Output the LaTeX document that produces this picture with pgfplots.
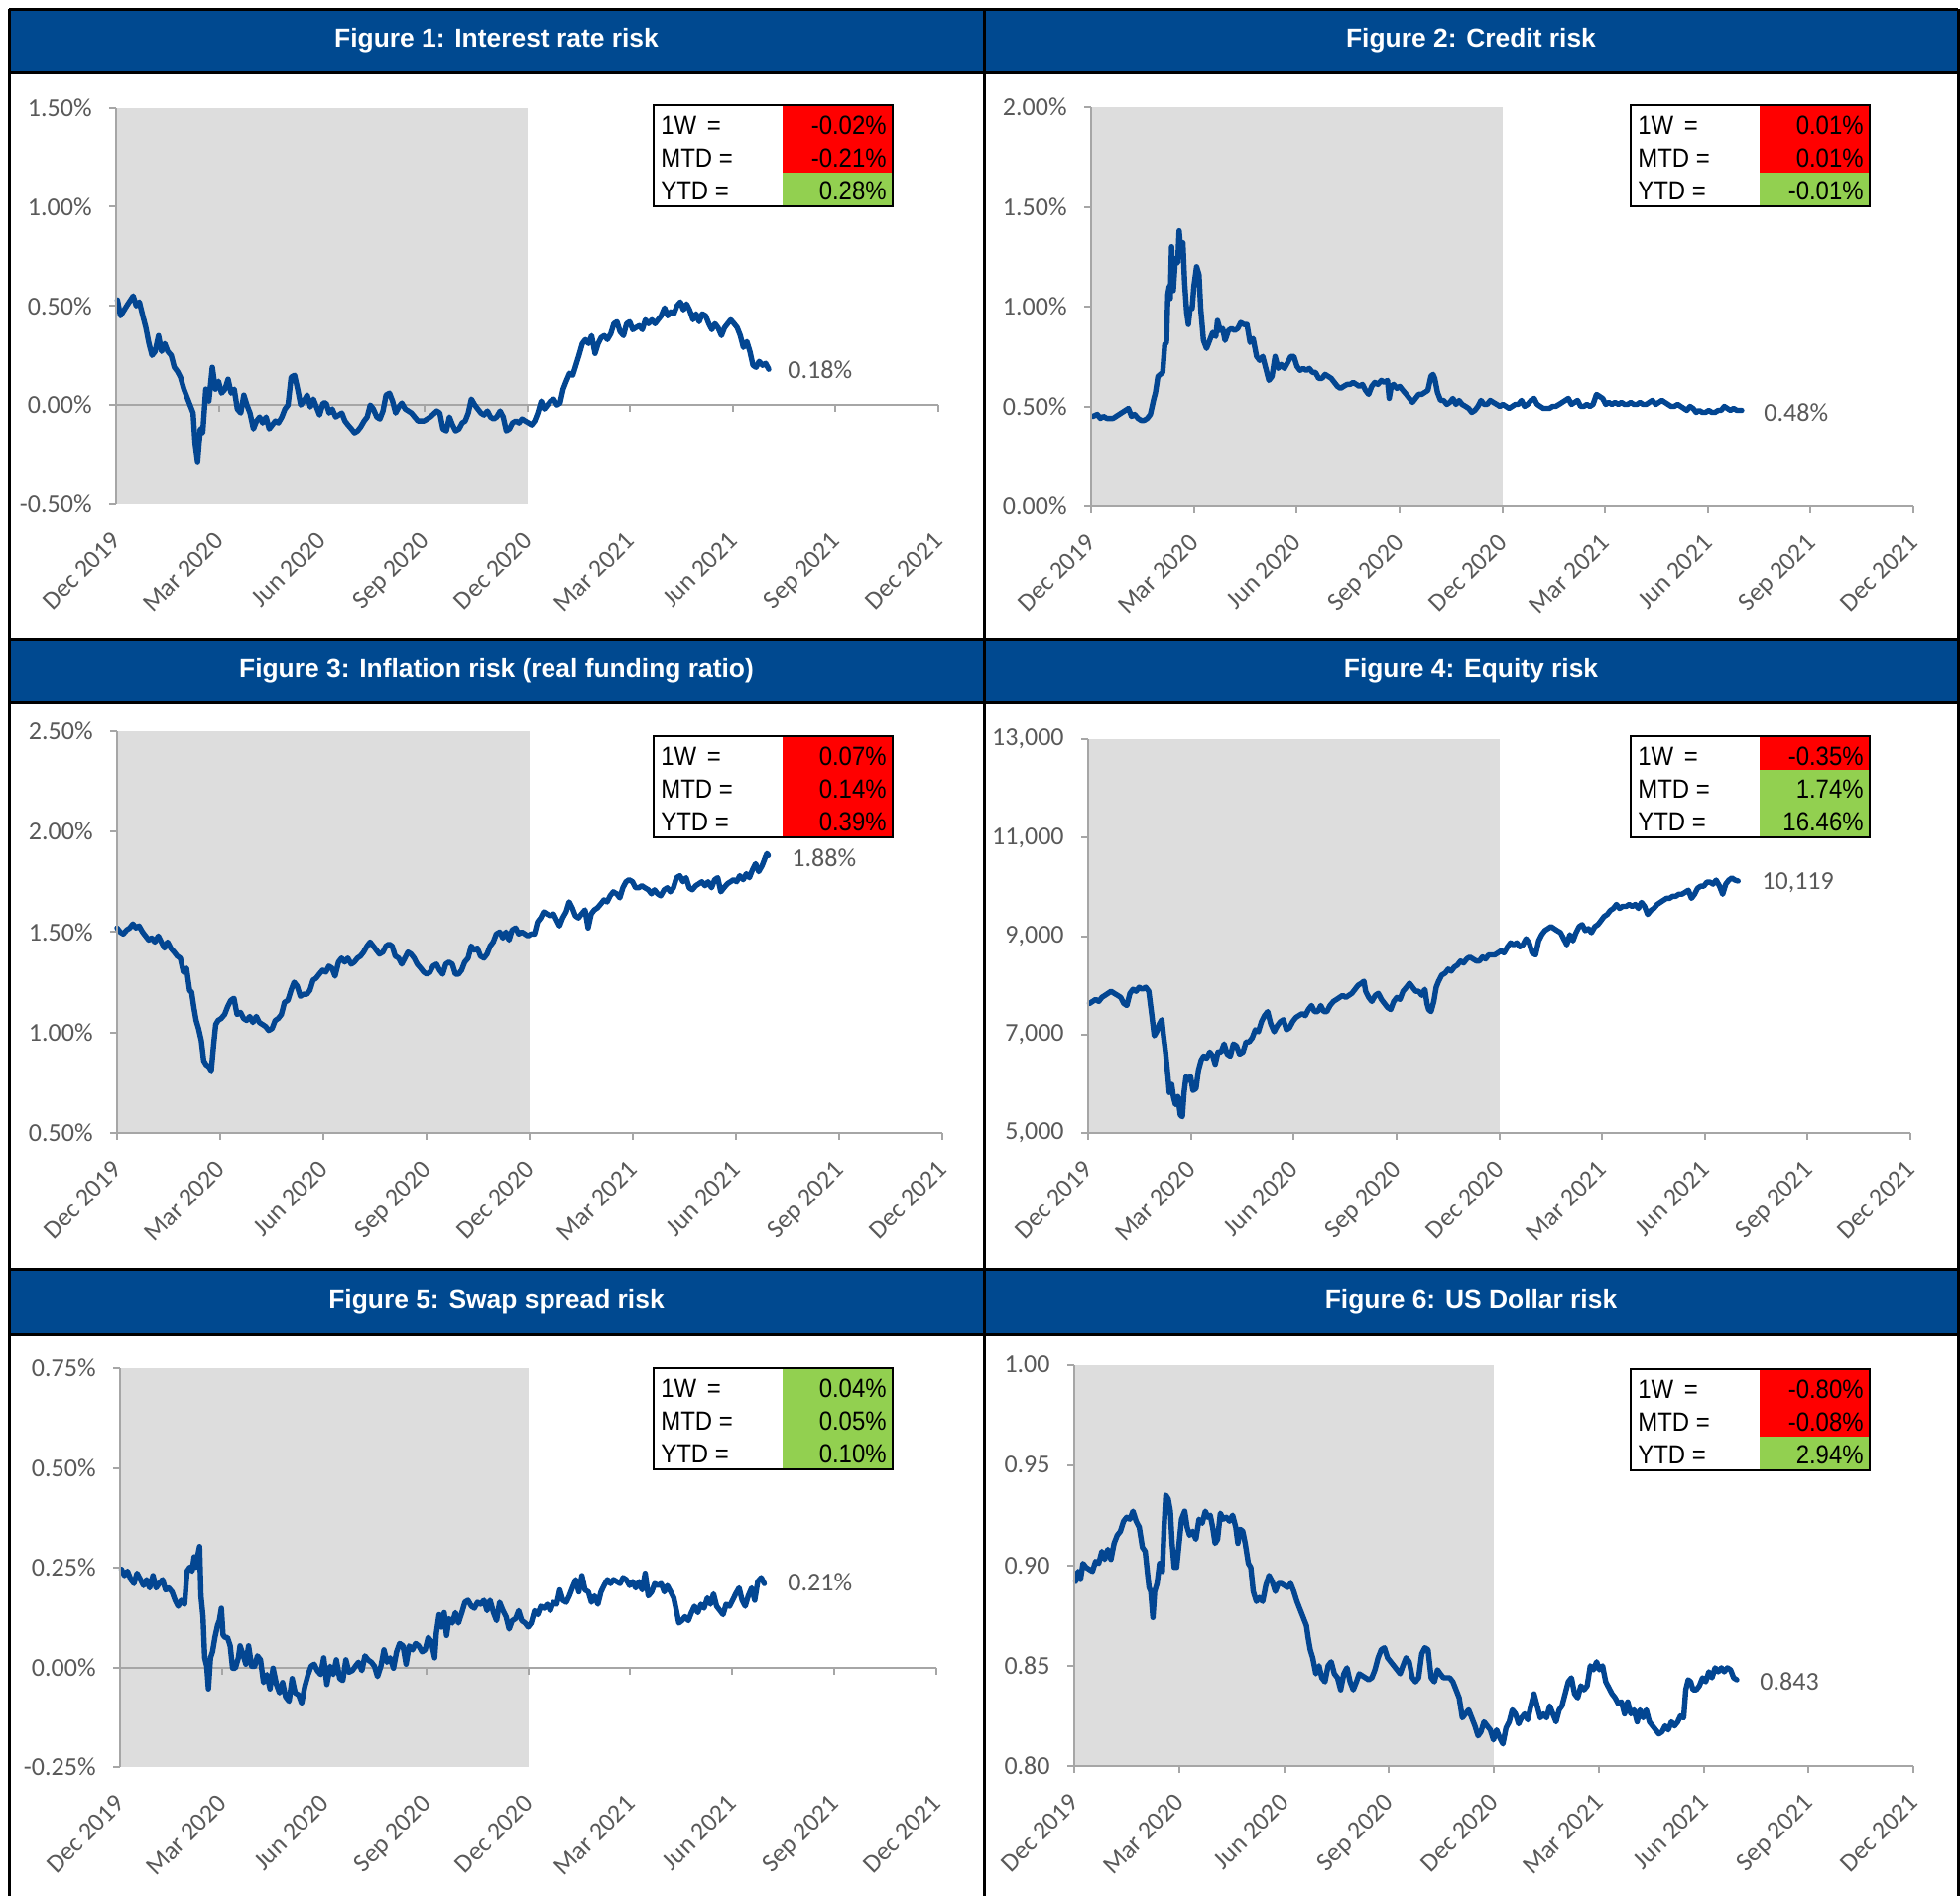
\documentclass[border=0pt]{standalone}
\usepackage{fontspec}
\setmainfont{Liberation Sans}
\newfontfamily\carlito{Carlito}
\usepackage{pgfplots}
\usepackage{pgfplotstable}
\pgfplotsset{compat=1.18}

\definecolor{hdrblue}{RGB}{0,73,144}
\definecolor{lineblue}{RGB}{3,70,146}
\definecolor{shadegray}{RGB}{221,221,221}
\definecolor{tickgray}{RGB}{89,89,89}
\definecolor{axgray}{RGB}{166,166,166}
\definecolor{cellred}{RGB}{255,0,0}
\definecolor{cellgreen}{RGB}{146,208,80}

\newcommand{\tickfont}{\carlito\fontsize{13}{15}\selectfont}
\newcommand{\tabfont}{\fontsize{13.3}{15}\selectfont}
\newcommand{\hdrfont}{\fontsize{13.2}{16}\selectfont\bfseries}

\pgfplotsset{
  panel/.style={
    scale only axis,
    xmin=0, xmax=24,
    axis on top,
    axis x line*=bottom,
    axis y line*=left,
    x axis line style={draw=none},
    y axis line style={axgray, line width=1pt, -},
    xtick={0,3,...,24},
    xticklabels={Dec 2019,Mar 2020,Jun 2020,Sep 2020,Dec 2020,Mar 2021,Jun 2021,Sep 2021,Dec 2021},
    xtick style={draw=none},
    ytick style={axgray, line width=1pt},
    tick align=outside,
    major tick length=3.5pt,
    scaled y ticks=false,
    xticklabel style={font=\tickfont, text=tickgray, inner sep=0pt, xshift=-3pt, yshift=-9.5pt, rotate=45, anchor=north east},
    yticklabel style={font=\tickfont, text=tickgray, inner sep=0pt, xshift=-8.5pt, anchor=east},
    /pgf/number format/assume math mode=true,
    clip=false,
  },
  serie/.style={lineblue, line width=2.7pt, line join=round, line cap=round, mark=none},
}

\newcommand{\xaxisat}[1]{%
  \draw[axgray, line width=1pt] (axis cs:0,#1) -- (axis cs:24,#1);
  \pgfplotsinvokeforeach{0,3,...,24}{\draw[axgray, line width=1pt] (axis cs:##1,#1) -- ++(0pt,-3.5pt);}
}

\newcommand{\stattable}[8]{%
 \begin{scope}[shift={(#1,#2)}]
  \fill[white] (0pt,0pt) rectangle (120.5pt,-51pt);
  \fill[#3] (65pt,0pt) rectangle (120.5pt,-17pt);
  \fill[#4] (65pt,-17pt) rectangle (120.5pt,-34pt);
  \fill[#5] (65pt,-34pt) rectangle (120.5pt,-51pt);
  \draw[line width=1.4pt] (0pt,0pt) rectangle (120.5pt,-51pt);
  \node[anchor=west,inner sep=0pt,font=\tabfont,xscale=0.9] at (3.5pt,-10.3pt) {1W\ \,=};
  \node[anchor=west,inner sep=0pt,font=\tabfont,xscale=0.9] at (3.5pt,-26.8pt) {MTD =};
  \node[anchor=west,inner sep=0pt,font=\tabfont,xscale=0.9] at (3.5pt,-43.2pt) {YTD =};
  \node[anchor=east,inner sep=0pt,font=\tabfont,xscale=0.9] at (117.5pt,-10.3pt) {#6};
  \node[anchor=east,inner sep=0pt,font=\tabfont,xscale=0.9] at (117.5pt,-26.8pt) {#7};
  \node[anchor=east,inner sep=0pt,font=\tabfont,xscale=0.9] at (117.5pt,-43.2pt) {#8};
 \end{scope}}

\begin{document}

\pgfplotstableread{
x y
0.04 0.53
0.13 0.45
0.31 0.50
0.50 0.55
0.59 0.50
0.68 0.52
0.78 0.45
0.87 0.39
0.96 0.31
1.05 0.25
1.14 0.27
1.24 0.35
1.33 0.27
1.42 0.31
1.51 0.27
1.61 0.25
1.70 0.19
1.79 0.17
1.88 0.14
1.98 0.08
2.07 0.04
2.16 0.00
2.25 -0.04
2.31 -0.20
2.38 -0.29
2.46 -0.12
2.53 -0.14
2.62 0.08
2.71 0.02
2.81 0.19
2.90 0.08
2.99 0.12
3.08 0.06
3.18 0.08
3.27 0.13
3.36 0.06
3.45 0.08
3.54 -0.02
3.64 -0.04
3.73 0.05
3.82 0.00
3.91 -0.04
4.01 -0.12
4.10 -0.08
4.19 -0.06
4.28 -0.09
4.38 -0.06
4.47 -0.12
4.56 -0.10
4.65 -0.08
4.74 -0.09
4.84 -0.06
4.93 -0.02
5.02 0.00
5.11 0.14
5.21 0.15
5.30 0.08
5.39 0.00
5.48 0.02
5.58 0.05
5.67 -0.01
5.76 0.03
5.85 -0.01
5.94 -0.05
6.04 0.01
6.13 0.01
6.22 -0.04
6.31 -0.02
6.41 -0.06
6.59 -0.04
6.68 -0.08
6.77 -0.10
6.87 -0.12
6.96 -0.14
7.05 -0.13
7.14 -0.11
7.24 -0.08
7.33 -0.06
7.42 0.00
7.51 -0.02
7.61 -0.06
7.70 -0.07
7.79 -0.03
7.88 0.05
7.98 0.06
8.07 0.02
8.16 -0.04
8.25 -0.01
8.34 0.01
8.44 -0.02
8.62 -0.04
8.81 -0.08
8.99 -0.08
9.17 -0.06
9.36 -0.03
9.45 -0.04
9.54 -0.12
9.64 -0.13
9.73 -0.06
9.82 -0.10
9.91 -0.13
10.01 -0.12
10.10 -0.09
10.19 -0.08
10.28 -0.04
10.37 0.03
10.47 0.00
10.56 -0.02
10.65 -0.04
10.74 -0.05
10.84 -0.03
10.93 -0.06
11.02 -0.07
11.11 -0.06
11.21 -0.03
11.30 -0.06
11.39 -0.13
11.48 -0.12
11.57 -0.09
11.67 -0.08
11.76 -0.09
11.85 -0.07
11.94 -0.08
12.04 -0.09
12.13 -0.10
12.22 -0.08
12.31 -0.04
12.41 0.02
12.50 -0.02
12.59 0.00
12.68 0.02
12.77 0.03
12.87 0.00
12.96 0.01
13.05 0.08
13.14 0.12
13.24 0.16
13.33 0.15
13.42 0.20
13.51 0.25
13.61 0.31
13.70 0.33
13.79 0.31
13.88 0.35
13.98 0.26
14.07 0.31
14.16 0.34
14.25 0.35
14.34 0.33
14.44 0.36
14.53 0.41
14.62 0.42
14.71 0.37
14.81 0.35
14.90 0.41
14.99 0.42
15.08 0.38
15.17 0.39
15.27 0.40
15.36 0.38
15.45 0.43
15.54 0.41
15.64 0.43
15.73 0.41
15.82 0.43
15.91 0.45
16.01 0.49
16.10 0.45
16.19 0.47
16.28 0.46
16.37 0.50
16.47 0.52
16.56 0.48
16.65 0.51
16.74 0.48
16.84 0.43
16.93 0.46
17.02 0.42
17.11 0.46
17.21 0.45
17.30 0.41
17.39 0.38
17.48 0.41
17.57 0.39
17.67 0.35
17.76 0.39
17.85 0.41
17.94 0.43
18.04 0.41
18.13 0.39
18.22 0.35
18.31 0.29
18.41 0.32
18.50 0.27
18.59 0.20
18.68 0.19
18.77 0.22
18.87 0.20
18.96 0.21
19.05 0.18
}\dataA

\pgfplotstableread{
x y
0.05 0.45
0.18 0.46
0.27 0.44
0.36 0.45
0.46 0.44
0.64 0.44
0.82 0.46
0.91 0.47
1.00 0.48
1.09 0.49
1.18 0.45
1.27 0.46
1.37 0.44
1.46 0.43
1.55 0.43
1.64 0.44
1.73 0.46
1.82 0.53
1.88 0.57
1.95 0.65
2.02 0.66
2.09 0.67
2.15 0.81
2.20 0.82
2.24 1.06
2.28 1.10
2.31 1.04
2.35 1.30
2.40 1.08
2.46 1.24
2.53 1.22
2.57 1.38
2.62 1.28
2.68 1.32
2.73 1.12
2.79 0.97
2.84 0.91
2.89 0.99
2.95 0.99
3.00 1.10
3.08 1.20
3.15 1.16
3.20 0.99
3.28 0.83
3.37 0.79
3.46 0.83
3.55 0.87
3.64 0.85
3.69 0.93
3.77 0.88
3.84 0.89
3.91 0.83
4.01 0.88
4.10 0.89
4.19 0.88
4.28 0.89
4.37 0.92
4.46 0.91
4.55 0.91
4.64 0.82
4.73 0.84
4.83 0.75
4.92 0.73
5.01 0.75
5.10 0.69
5.19 0.63
5.28 0.65
5.37 0.75
5.46 0.69
5.55 0.71
5.64 0.69
5.74 0.72
5.83 0.75
5.92 0.75
6.01 0.70
6.10 0.68
6.19 0.69
6.28 0.68
6.37 0.69
6.46 0.67
6.55 0.67
6.64 0.64
6.74 0.64
6.83 0.66
6.92 0.65
7.01 0.64
7.10 0.62
7.19 0.60
7.28 0.59
7.37 0.60
7.47 0.61
7.56 0.61
7.65 0.62
7.74 0.61
7.83 0.60
7.92 0.61
8.01 0.58
8.10 0.56
8.19 0.60
8.28 0.62
8.37 0.61
8.47 0.63
8.56 0.62
8.65 0.63
8.70 0.54
8.76 0.60
8.83 0.61
8.92 0.59
9.01 0.60
9.10 0.58
9.20 0.56
9.29 0.54
9.38 0.52
9.47 0.54
9.56 0.56
9.65 0.56
9.74 0.57
9.83 0.58
9.92 0.65
9.98 0.66
10.03 0.64
10.11 0.57
10.20 0.53
10.29 0.53
10.38 0.51
10.47 0.52
10.56 0.54
10.65 0.51
10.74 0.53
10.83 0.51
10.93 0.50
11.02 0.49
11.11 0.47
11.20 0.48
11.29 0.50
11.38 0.53
11.47 0.51
11.56 0.51
11.65 0.53
11.74 0.52
11.84 0.51
11.93 0.50
12.02 0.51
12.11 0.50
12.20 0.49
12.29 0.50
12.38 0.51
12.47 0.51
12.56 0.53
12.65 0.50
12.74 0.51
12.84 0.53
12.93 0.54
13.02 0.51
13.11 0.50
13.20 0.49
13.29 0.49
13.38 0.49
13.47 0.50
13.56 0.50
13.66 0.51
13.75 0.52
13.84 0.53
13.93 0.54
14.02 0.51
14.11 0.52
14.20 0.53
14.29 0.50
14.38 0.50
14.47 0.51
14.56 0.50
14.65 0.51
14.75 0.56
14.84 0.55
14.93 0.54
15.02 0.51
15.11 0.52
15.20 0.51
15.29 0.52
15.39 0.51
15.48 0.52
15.57 0.51
15.66 0.51
15.75 0.52
15.84 0.51
15.93 0.51
16.02 0.52
16.11 0.51
16.20 0.51
16.29 0.52
16.38 0.53
16.48 0.51
16.57 0.52
16.66 0.53
16.75 0.52
16.84 0.51
16.93 0.50
17.02 0.50
17.12 0.51
17.21 0.50
17.30 0.49
17.39 0.48
17.48 0.50
17.57 0.49
17.66 0.47
17.75 0.48
17.84 0.47
17.93 0.47
18.03 0.48
18.12 0.47
18.21 0.47
18.30 0.48
18.39 0.48
18.48 0.50
18.57 0.49
18.66 0.48
18.75 0.49
18.85 0.48
18.94 0.48
18.99 0.48
}\dataB

\pgfplotstableread{
x y
0.00 1.52
0.09 1.50
0.18 1.49
0.28 1.51
0.37 1.52
0.46 1.54
0.55 1.52
0.64 1.53
0.74 1.50
0.83 1.48
0.92 1.46
1.01 1.47
1.10 1.45
1.20 1.48
1.29 1.45
1.38 1.42
1.47 1.45
1.56 1.42
1.66 1.40
1.75 1.38
1.84 1.37
1.93 1.30
2.02 1.32
2.11 1.21
2.17 1.20
2.23 1.13
2.30 1.06
2.37 1.02
2.45 0.96
2.52 0.86
2.59 0.84
2.67 0.83
2.74 0.81
2.81 0.94
2.87 1.04
2.94 1.06
3.03 1.07
3.13 1.09
3.22 1.13
3.31 1.16
3.40 1.17
3.49 1.09
3.59 1.10
3.68 1.07
3.77 1.06
3.86 1.08
3.95 1.05
4.05 1.08
4.14 1.05
4.23 1.04
4.32 1.03
4.41 1.01
4.51 1.02
4.60 1.06
4.69 1.07
4.78 1.09
4.87 1.15
4.97 1.16
5.06 1.21
5.15 1.25
5.24 1.23
5.33 1.18
5.42 1.19
5.52 1.19
5.61 1.21
5.70 1.26
5.79 1.27
5.88 1.29
5.98 1.31
6.07 1.30
6.16 1.33
6.25 1.32
6.34 1.28
6.44 1.35
6.53 1.37
6.62 1.35
6.71 1.37
6.81 1.34
6.90 1.35
6.99 1.37
7.08 1.38
7.17 1.40
7.27 1.43
7.36 1.45
7.45 1.43
7.54 1.41
7.63 1.39
7.73 1.40
7.82 1.43
7.91 1.44
8.00 1.43
8.09 1.38
8.19 1.37
8.28 1.34
8.37 1.37
8.46 1.40
8.55 1.39
8.64 1.37
8.73 1.34
8.83 1.32
8.92 1.30
9.01 1.29
9.10 1.30
9.19 1.33
9.29 1.34
9.38 1.31
9.47 1.29
9.56 1.34
9.65 1.35
9.75 1.34
9.84 1.29
9.93 1.29
10.02 1.31
10.11 1.35
10.21 1.37
10.30 1.43
10.39 1.41
10.48 1.42
10.57 1.38
10.67 1.37
10.76 1.39
10.85 1.43
10.94 1.45
11.03 1.49
11.13 1.50
11.22 1.47
11.31 1.50
11.40 1.46
11.49 1.51
11.59 1.52
11.68 1.49
11.77 1.50
11.86 1.49
11.95 1.48
12.04 1.49
12.14 1.49
12.23 1.55
12.32 1.57
12.41 1.60
12.50 1.59
12.60 1.58
12.69 1.59
12.78 1.56
12.87 1.53
12.96 1.57
13.06 1.60
13.15 1.65
13.24 1.62
13.33 1.58
13.42 1.57
13.51 1.59
13.61 1.61
13.70 1.52
13.79 1.59
13.88 1.61
13.97 1.62
14.07 1.64
14.16 1.66
14.25 1.65
14.34 1.68
14.43 1.70
14.53 1.69
14.62 1.67
14.71 1.72
14.80 1.75
14.89 1.76
14.99 1.75
15.08 1.72
15.17 1.72
15.26 1.73
15.35 1.72
15.45 1.71
15.54 1.69
15.63 1.71
15.72 1.69
15.81 1.68
15.91 1.71
16.00 1.72
16.09 1.70
16.18 1.72
16.27 1.77
16.37 1.78
16.46 1.75
16.55 1.77
16.64 1.72
16.73 1.71
16.83 1.73
16.92 1.74
17.01 1.75
17.10 1.73
17.19 1.75
17.29 1.72
17.38 1.76
17.47 1.77
17.56 1.70
17.65 1.72
17.75 1.74
17.84 1.75
17.93 1.76
18.02 1.75
18.11 1.78
18.21 1.76
18.30 1.79
18.39 1.77
18.48 1.81
18.57 1.84
18.66 1.80
18.76 1.83
18.85 1.87
18.90 1.89
18.94 1.88
}\dataC

\pgfplotstableread{
x y
0.04 7631
0.13 7672
0.22 7713
0.31 7672
0.40 7754
0.49 7795
0.58 7837
0.67 7878
0.76 7837
0.86 7795
0.95 7754
1.04 7631
1.13 7590
1.22 7837
1.31 7919
1.40 7878
1.49 7960
1.58 7919
1.68 7960
1.77 7878
1.86 7384
1.93 6973
2.00 7056
2.08 7220
2.15 7302
2.20 6973
2.26 6644
2.33 6151
2.37 5822
2.44 5987
2.49 5740
2.55 5576
2.62 5740
2.69 5370
2.75 5329
2.80 5822
2.86 6151
2.91 6069
2.99 6151
3.06 5863
3.15 5904
3.22 6274
3.30 6480
3.37 6562
3.46 6521
3.55 6644
3.64 6562
3.71 6398
3.79 6644
3.88 6644
3.97 6809
4.06 6603
4.15 6562
4.24 6809
4.33 6768
4.42 6603
4.52 6644
4.61 6850
4.70 6850
4.79 6932
4.88 7097
4.97 7056
5.06 7261
5.15 7384
5.24 7466
5.33 7220
5.43 7056
5.52 7179
5.61 7261
5.70 7302
5.79 7097
5.88 7138
5.97 7261
6.06 7343
6.15 7384
6.25 7425
6.34 7384
6.43 7508
6.52 7590
6.61 7466
6.70 7466
6.79 7590
6.88 7466
6.97 7466
7.06 7590
7.16 7672
7.25 7713
7.34 7754
7.43 7795
7.52 7754
7.61 7795
7.70 7837
7.79 7919
7.88 8001
7.98 8042
8.05 8083
8.10 7878
8.19 7754
8.28 7672
8.38 7795
8.47 7837
8.56 7713
8.65 7631
8.74 7549
8.83 7508
8.92 7672
9.01 7754
9.10 7713
9.19 7878
9.29 7960
9.38 8042
9.47 7960
9.56 7878
9.65 7878
9.74 7795
9.83 7919
9.89 7631
9.94 7508
10.01 7466
10.09 7672
10.16 7960
10.23 8083
10.32 8206
10.42 8247
10.51 8329
10.60 8288
10.69 8371
10.78 8412
10.87 8494
10.96 8453
11.05 8535
11.14 8576
11.23 8535
11.33 8494
11.42 8494
11.51 8576
11.60 8535
11.69 8618
11.78 8618
11.87 8618
11.96 8659
12.05 8700
12.14 8659
12.24 8782
12.33 8864
12.42 8823
12.51 8864
12.60 8782
12.69 8823
12.78 8947
12.87 8864
12.96 8659
13.06 8618
13.15 8905
13.24 9029
13.33 9111
13.42 9152
13.51 9193
13.60 9152
13.69 9111
13.79 9070
13.88 8947
13.97 8823
14.06 9029
14.15 8905
14.24 9070
14.33 9193
14.42 9234
14.51 9111
14.60 9152
14.69 9070
14.79 9193
14.88 9234
14.97 9316
15.06 9399
15.15 9440
15.24 9522
15.33 9563
15.42 9645
15.51 9563
15.60 9604
15.70 9604
15.79 9645
15.88 9604
15.97 9645
16.06 9563
16.15 9686
16.24 9604
16.33 9440
16.42 9522
16.51 9563
16.61 9645
16.70 9686
16.79 9727
16.88 9768
16.97 9768
17.06 9810
17.15 9810
17.24 9851
17.33 9851
17.43 9892
17.52 9933
17.61 9768
17.70 9851
17.79 9974
17.88 10015
17.97 10015
18.06 10097
18.15 10097
18.24 10056
18.33 10138
18.43 10015
18.52 9851
18.61 10056
18.70 10138
18.79 10180
18.88 10138
18.97 10119
}\dataD

\pgfplotstableread{
x y
0.04 0.246
0.13 0.230
0.22 0.241
0.32 0.220
0.41 0.210
0.50 0.236
0.60 0.220
0.69 0.205
0.78 0.220
0.87 0.199
0.97 0.230
1.06 0.199
1.15 0.210
1.25 0.220
1.34 0.194
1.43 0.199
1.53 0.189
1.62 0.168
1.71 0.153
1.80 0.168
1.90 0.158
1.97 0.241
2.05 0.251
2.12 0.241
2.18 0.277
2.23 0.251
2.29 0.282
2.34 0.303
2.38 0.179
2.44 0.127
2.49 0.024
2.55 0.003
2.60 -0.054
2.66 0.024
2.72 0.039
2.79 0.075
2.87 0.106
2.92 0.117
2.98 0.148
3.03 0.081
3.09 0.075
3.16 0.075
3.24 0.054
3.31 -0.002
3.39 -0.002
3.48 0.024
3.53 0.054
3.61 0.034
3.70 0.008
3.78 0.054
3.87 0.003
3.96 0.003
4.04 0.029
4.13 0.019
4.22 -0.038
4.32 -0.018
4.41 -0.054
4.50 -0.002
4.60 -0.043
4.69 -0.064
4.78 -0.038
4.87 -0.074
4.97 -0.085
5.06 -0.028
5.15 -0.064
5.25 -0.069
5.34 -0.090
5.43 -0.049
5.53 -0.018
5.62 0.003
5.71 0.008
5.80 -0.008
5.90 -0.018
5.99 0.024
6.08 -0.043
6.18 0.003
6.27 -0.018
6.36 0.019
6.46 -0.028
6.55 -0.033
6.64 0.019
6.73 -0.012
6.83 -0.008
6.92 0.003
7.01 0.013
7.11 -0.008
7.20 0.029
7.29 0.019
7.39 0.013
7.48 0.003
7.57 -0.023
7.67 0.003
7.76 0.044
7.85 0.013
7.94 0.024
8.04 -0.002
8.13 0.039
8.22 0.060
8.32 0.054
8.41 0.008
8.50 0.054
8.60 0.044
8.69 0.060
8.78 0.054
8.88 0.039
8.97 0.044
9.06 0.075
9.15 0.065
9.25 0.024
9.30 0.086
9.38 0.132
9.45 0.101
9.53 0.137
9.60 0.080
9.67 0.122
9.77 0.111
9.86 0.137
9.95 0.111
10.05 0.137
10.14 0.163
10.23 0.168
10.33 0.153
10.42 0.148
10.51 0.163
10.60 0.158
10.70 0.168
10.79 0.142
10.88 0.168
10.98 0.137
11.07 0.117
11.16 0.163
11.26 0.142
11.35 0.127
11.44 0.096
11.53 0.117
11.63 0.122
11.72 0.142
11.81 0.117
11.91 0.111
12.00 0.101
12.09 0.111
12.19 0.142
12.28 0.132
12.37 0.153
12.47 0.148
12.56 0.158
12.65 0.142
12.74 0.163
12.84 0.158
12.93 0.194
13.02 0.168
13.12 0.163
13.21 0.179
13.30 0.199
13.40 0.220
13.49 0.189
13.58 0.230
13.67 0.194
13.77 0.189
13.86 0.163
13.95 0.179
14.05 0.158
14.14 0.189
14.23 0.205
14.33 0.220
14.42 0.210
14.51 0.220
14.60 0.215
14.70 0.210
14.79 0.225
14.88 0.220
14.98 0.205
15.07 0.215
15.16 0.199
15.26 0.215
15.35 0.194
15.44 0.236
15.53 0.179
15.63 0.189
15.72 0.210
15.81 0.205
15.91 0.210
16.00 0.189
16.09 0.205
16.19 0.189
16.28 0.174
16.37 0.137
16.43 0.111
16.52 0.117
16.61 0.127
16.71 0.117
16.80 0.137
16.89 0.153
16.99 0.137
17.08 0.158
17.17 0.148
17.27 0.174
17.36 0.158
17.45 0.184
17.54 0.153
17.64 0.142
17.73 0.132
17.82 0.158
17.92 0.153
18.01 0.168
18.10 0.184
18.20 0.199
18.29 0.168
18.38 0.153
18.47 0.179
18.57 0.199
18.66 0.168
18.75 0.215
18.85 0.225
18.94 0.210
}\dataE

\pgfplotstableread{
x y
0.04 0.892
0.11 0.897
0.18 0.893
0.25 0.901
0.34 0.899
0.43 0.898
0.52 0.897
0.61 0.902
0.70 0.901
0.79 0.907
0.87 0.903
0.96 0.908
1.05 0.903
1.14 0.911
1.23 0.915
1.32 0.917
1.41 0.922
1.50 0.924
1.59 0.923
1.68 0.927
1.77 0.922
1.86 0.919
1.95 0.909
2.03 0.907
2.09 0.897
2.14 0.889
2.19 0.887
2.25 0.874
2.30 0.887
2.37 0.891
2.44 0.901
2.52 0.897
2.57 0.919
2.62 0.935
2.69 0.933
2.75 0.927
2.80 0.911
2.86 0.899
2.93 0.899
3.00 0.911
3.07 0.923
3.16 0.927
3.23 0.919
3.30 0.915
3.39 0.917
3.48 0.913
3.57 0.923
3.66 0.921
3.75 0.927
3.82 0.924
3.89 0.925
3.96 0.919
4.03 0.911
4.10 0.913
4.18 0.926
4.26 0.923
4.35 0.924
4.44 0.922
4.53 0.925
4.62 0.919
4.68 0.911
4.75 0.918
4.82 0.917
4.89 0.911
4.98 0.901
5.05 0.899
5.12 0.887
5.21 0.882
5.30 0.884
5.39 0.882
5.48 0.890
5.57 0.895
5.66 0.892
5.75 0.887
5.84 0.891
5.92 0.891
6.01 0.890
6.10 0.889
6.19 0.891
6.28 0.887
6.37 0.882
6.46 0.878
6.55 0.874
6.64 0.870
6.69 0.864
6.75 0.858
6.82 0.854
6.91 0.846
7.00 0.850
7.08 0.844
7.17 0.842
7.26 0.850
7.35 0.852
7.44 0.846
7.53 0.844
7.62 0.838
7.71 0.846
7.80 0.849
7.89 0.842
7.98 0.838
8.07 0.842
8.15 0.846
8.24 0.845
8.33 0.844
8.42 0.843
8.51 0.844
8.60 0.848
8.69 0.854
8.78 0.858
8.87 0.859
8.96 0.854
9.05 0.852
9.14 0.850
9.23 0.848
9.32 0.846
9.40 0.850
9.49 0.854
9.58 0.852
9.67 0.844
9.76 0.842
9.85 0.844
9.94 0.856
10.03 0.859
10.12 0.858
10.21 0.844
10.30 0.842
10.39 0.848
10.47 0.846
10.56 0.844
10.65 0.844
10.74 0.844
10.83 0.842
10.92 0.838
11.01 0.834
11.10 0.824
11.19 0.826
11.28 0.828
11.37 0.824
11.46 0.820
11.55 0.815
11.63 0.817
11.72 0.822
11.81 0.820
11.90 0.818
11.99 0.813
12.08 0.818
12.17 0.814
12.26 0.811
12.35 0.819
12.44 0.822
12.53 0.828
12.62 0.826
12.71 0.821
12.79 0.824
12.88 0.826
12.97 0.823
13.06 0.830
13.15 0.836
13.24 0.830
13.33 0.824
13.42 0.826
13.51 0.824
13.60 0.830
13.69 0.826
13.78 0.822
13.87 0.828
13.95 0.830
14.04 0.836
14.13 0.842
14.22 0.844
14.31 0.836
14.40 0.834
14.49 0.840
14.58 0.838
14.67 0.840
14.76 0.850
14.85 0.848
14.94 0.852
15.02 0.848
15.11 0.850
15.20 0.842
15.29 0.839
15.38 0.836
15.47 0.834
15.56 0.831
15.65 0.832
15.74 0.826
15.83 0.832
15.92 0.826
16.01 0.828
16.10 0.822
16.18 0.828
16.27 0.824
16.36 0.828
16.45 0.822
16.54 0.820
16.63 0.818
16.72 0.816
16.81 0.817
16.90 0.820
16.99 0.818
17.08 0.822
17.17 0.820
17.26 0.822
17.34 0.825
17.43 0.824
17.49 0.838
17.56 0.843
17.63 0.842
17.70 0.838
17.79 0.838
17.88 0.840
17.97 0.844
18.06 0.842
18.15 0.847
18.24 0.844
18.33 0.849
18.42 0.847
18.51 0.849
18.59 0.847
18.68 0.849
18.77 0.848
18.86 0.844
18.95 0.843
}\dataF

\begin{tikzpicture}
\path[use as bounding box] (0pt,0pt) rectangle (988pt,-955.5pt);

% header bars
\fill[hdrblue] (4.5pt,-4.5pt) rectangle (987pt,-36.5pt);
\fill[hdrblue] (4.5pt,-322pt) rectangle (987pt,-354pt);
\fill[hdrblue] (4.5pt,-639.5pt) rectangle (987pt,-672.5pt);
\foreach \yy in {4.5,36.5,322,354,639.5,672.5}{\draw[line width=1.5pt] (4.5pt,-\yy pt) -- (987pt,-\yy pt);}
\foreach \xx in {4.5,496,987}{\draw[line width=1.5pt] (\xx pt,-4.5pt) -- (\xx pt,-955.5pt);}

\node[text=white,font=\hdrfont] at (250.25pt,-20.2pt) {Figure 1: Interest rate risk};
\node[text=white,font=\hdrfont] at (741.5pt,-20.2pt) {Figure 2: Credit risk};
\node[text=white,font=\hdrfont] at (250.25pt,-337.8pt) {Figure 3: Inflation risk (real funding ratio)};
\node[text=white,font=\hdrfont] at (741.5pt,-337.8pt) {Figure 4: Equity risk};
\node[text=white,font=\hdrfont] at (250.25pt,-655.8pt) {Figure 5: Swap spread risk};
\node[text=white,font=\hdrfont] at (741.5pt,-655.8pt) {Figure 6: US Dollar risk};

% Panel 1
\begin{axis}[panel, at={(58.5pt,-254pt)}, anchor=south west, width=414.5pt, height=199.7pt,
  ymin=-0.5, ymax=1.5, ytick={-0.5,0,0.5,1,1.5},
  yticklabels={-0.50\%,0.00\%,0.50\%,1.00\%,1.50\%}]
  \fill[shadegray] (axis cs:0,-0.5) rectangle (axis cs:12,1.5);
  \xaxisat{0}
  \addplot[serie] table[x=x,y=y] {\dataA};
\end{axis}

% Panel 2
\begin{axis}[panel, at={(550pt,-255pt)}, anchor=south west, width=414.5pt, height=201pt,
  ymin=0, ymax=2, ytick={0,0.5,1,1.5,2},
  yticklabels={0.00\%,0.50\%,1.00\%,1.50\%,2.00\%}]
  \fill[shadegray] (axis cs:0,0) rectangle (axis cs:12,2);
  \xaxisat{0}
  \addplot[serie] table[x=x,y=y] {\dataB};
\end{axis}

% Panel 3
\begin{axis}[panel, at={(59pt,-571pt)}, anchor=south west, width=416pt, height=202.65pt,
  ymin=0.5, ymax=2.5, ytick={0.5,1,1.5,2,2.5},
  yticklabels={0.50\%,1.00\%,1.50\%,2.00\%,2.50\%}]
  \fill[shadegray] (axis cs:0,0.5) rectangle (axis cs:12,2.5);
  \xaxisat{0.5}
  \addplot[serie] table[x=x,y=y] {\dataC};
\end{axis}

% Panel 4
\begin{axis}[panel, at={(548.5pt,-571pt)}, anchor=south west, width=414.5pt, height=198.5pt,
  ymin=5000, ymax=13000, ytick={5000,7000,9000,11000,13000},
  yticklabels={{5,000},{7,000},{9,000},{11,000},{13,000}}]
  \fill[shadegray] (axis cs:0,5000) rectangle (axis cs:12,13000);
  \xaxisat{5000}
  \addplot[serie] table[x=x,y=y] {\dataD};
\end{axis}

% Panel 5
\begin{axis}[panel, at={(60.5pt,-890.5pt)}, anchor=south west, width=411.5pt, height=201pt,
  ymin=-0.25, ymax=0.75, ytick={-0.25,0,0.25,0.5,0.75},
  yticklabels={-0.25\%,0.00\%,0.25\%,0.50\%,0.75\%}]
  \fill[shadegray] (axis cs:0,-0.25) rectangle (axis cs:12,0.75);
  \xaxisat{0}
  \addplot[serie] table[x=x,y=y] {\dataE};
\end{axis}

% Panel 6
\begin{axis}[panel, at={(541.5pt,-890pt)}, anchor=south west, width=423pt, height=202.25pt,
  ymin=0.8, ymax=1.0, ytick={0.8,0.85,0.9,0.95,1.0},
  yticklabels={0.80,0.85,0.90,0.95,1.00}]
  \fill[shadegray] (axis cs:0,0.8) rectangle (axis cs:12,1.0);
  \xaxisat{0.8}
  \addplot[serie] table[x=x,y=y] {\dataF};
\end{axis}

% end labels
\node[anchor=west,inner sep=0pt,font=\tickfont,text=tickgray] at (397pt,-186.5pt) {0.18\%};
\node[anchor=west,inner sep=0pt,font=\tickfont,text=tickgray] at (889pt,-207.75pt) {0.48\%};
\node[anchor=west,inner sep=0pt,font=\tickfont,text=tickgray] at (399pt,-432.25pt) {1.88\%};
\node[anchor=west,inner sep=0pt,font=\tickfont,text=tickgray] at (888pt,-445pt) {10,119};
\node[anchor=west,inner sep=0pt,font=\tickfont,text=tickgray] at (397pt,-797.5pt) {0.21\%};
\node[anchor=west,inner sep=0pt,font=\tickfont,text=tickgray] at (887pt,-847.5pt) {0.843};

% stat tables
\stattable{329.5pt}{-53pt}{cellred}{cellred}{cellgreen}{-0.02\%}{-0.21\%}{0.28\%}
\stattable{822pt}{-53pt}{cellred}{cellred}{cellgreen}{0.01\%}{0.01\%}{-0.01\%}
\stattable{329.5pt}{-371pt}{cellred}{cellred}{cellred}{0.07\%}{0.14\%}{0.39\%}
\stattable{822pt}{-371pt}{cellred}{cellgreen}{cellgreen}{-0.35\%}{1.74\%}{16.46\%}
\stattable{329.5pt}{-689.5pt}{cellgreen}{cellgreen}{cellgreen}{0.04\%}{0.05\%}{0.10\%}
\stattable{822pt}{-690pt}{cellred}{cellred}{cellgreen}{-0.80\%}{-0.08\%}{2.94\%}
\end{tikzpicture}
\end{document}
